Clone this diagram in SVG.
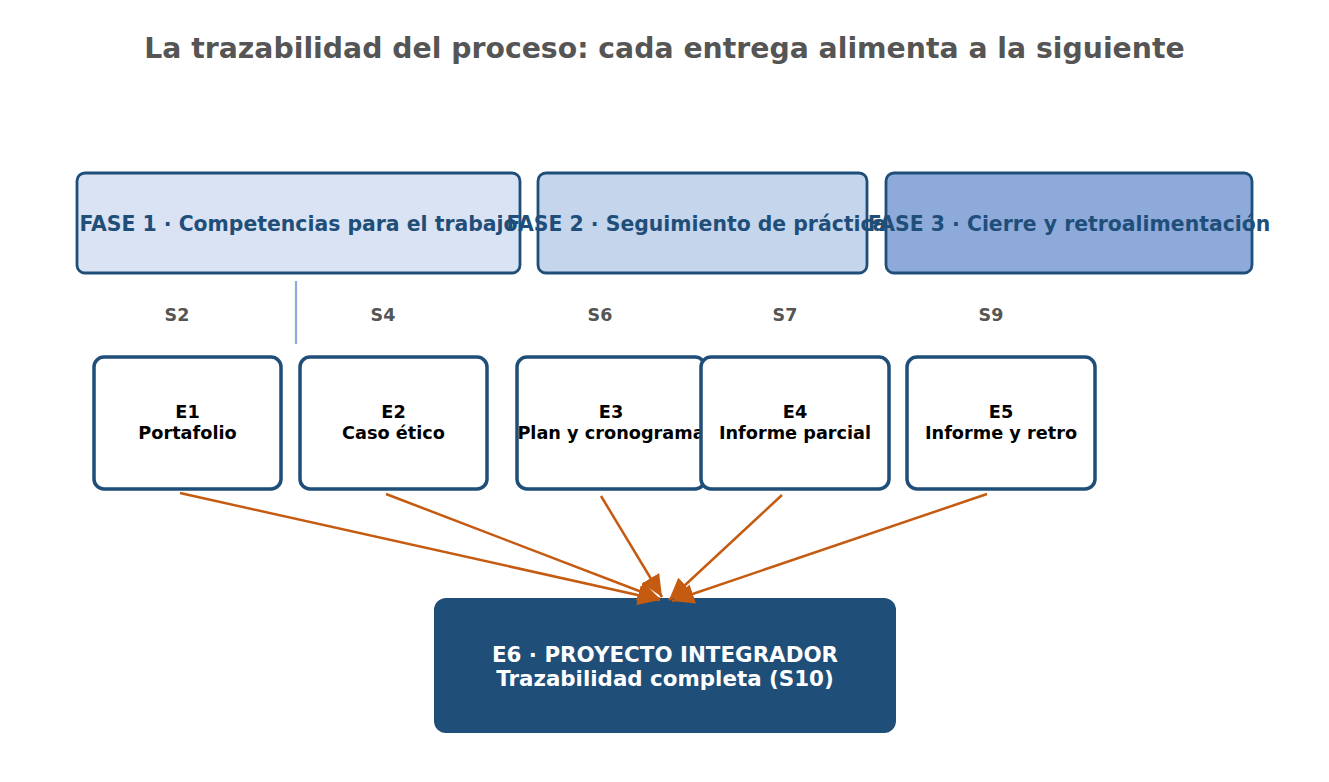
<svg xmlns="http://www.w3.org/2000/svg" width="1329" height="782" viewBox="0 0 1329 782">
<defs>
<style>
.title{font-family:"DejaVu Sans",sans-serif;font-weight:bold;font-size:28.3px;fill:#555555;text-anchor:middle}
.phase rect{stroke:#1f4e79;stroke-width:2.8}
.phase text{font-family:"DejaVu Sans",sans-serif;font-weight:bold;font-size:20.4px;fill:#1f4e79;text-anchor:middle;dominant-baseline:central}
.week{font-family:"DejaVu Sans",sans-serif;font-weight:bold;font-size:17.5px;fill:#555555;text-anchor:middle;dominant-baseline:central}
.ent rect{fill:#ffffff;stroke:#1f4e79;stroke-width:3.5}
.ent text{font-family:"DejaVu Sans",sans-serif;font-weight:bold;font-size:17.7px;fill:#000000;text-anchor:middle;dominant-baseline:central}
.final text{font-family:"DejaVu Sans",sans-serif;font-weight:bold;font-size:21.4px;fill:#ffffff;text-anchor:middle;dominant-baseline:central}
.conn line{stroke:#c55a11;stroke-width:2.5;fill:none}
</style>
<marker id="ah" markerUnits="userSpaceOnUse" markerWidth="26" markerHeight="22" refX="22" refY="10" orient="auto">
<path d="M0,0 L22,10 L0,20 Z" fill="#c55a11"/>
</marker>
</defs>
<rect width="1329" height="782" fill="#ffffff"/>
<text class="title" x="664.5" y="58">La trazabilidad del proceso: cada entrega alimenta a la siguiente</text>

<g id="fase1" class="phase"><rect x="77" y="173" width="443" height="100" rx="8" fill="#dae3f3"/><text x="298.5" y="224">FASE 1 · Competencias para el trabajo</text></g>
<g id="fase2" class="phase"><rect x="538" y="173" width="329" height="100" rx="8" fill="#c5d5ec"/><text x="702.5" y="224">FASE 2 · Seguimiento de prácticas</text></g>
<g id="fase3" class="phase"><rect x="886" y="173" width="366" height="100" rx="8" fill="#8eaadb"/><text x="1069" y="224">FASE 3 · Cierre y retroalimentación</text></g>

<line x1="296" y1="281" x2="296" y2="344" stroke="#8eaadb" stroke-width="2.2"/>

<text class="week" x="177" y="315">S2</text>
<text class="week" x="383" y="315">S4</text>
<text class="week" x="600" y="315">S6</text>
<text class="week" x="785" y="315">S7</text>
<text class="week" x="991" y="315">S9</text>

<g id="e1" class="ent"><rect x="94" y="357" width="187" height="132" rx="10"/><text x="187.5" y="412">E1</text><text x="187.5" y="433">Portafolio</text></g>
<g id="e2" class="ent"><rect x="300" y="357" width="187" height="132" rx="10"/><text x="393.5" y="412">E2</text><text x="393.5" y="433">Caso ético</text></g>
<g id="e3" class="ent"><rect x="517" y="357" width="188" height="132" rx="10"/><text x="611" y="412">E3</text><text x="611" y="433">Plan y cronograma</text></g>
<g id="e4" class="ent"><rect x="701" y="357" width="188" height="132" rx="10"/><text x="795" y="412">E4</text><text x="795" y="433">Informe parcial</text></g>
<g id="e5" class="ent"><rect x="907" y="357" width="188" height="132" rx="10"/><text x="1001" y="412">E5</text><text x="1001" y="433">Informe y retro</text></g>

<g id="e6" class="final"><rect x="434" y="598" width="462" height="135" rx="12" fill="#1f4e79"/><text x="665" y="654">E6 · PROYECTO INTEGRADOR</text><text x="665" y="678">Trazabilidad completa (S10)</text></g>

<g id="connectors" class="conn">
<line x1="180" y1="493" x2="660" y2="600" marker-end="url(#ah)"/>
<line x1="386" y1="494" x2="660" y2="599" marker-end="url(#ah)"/>
<line x1="601" y1="496" x2="662" y2="597" marker-end="url(#ah)"/>
<line x1="782" y1="495" x2="669" y2="600" marker-end="url(#ah)"/>
<line x1="987" y1="494" x2="672" y2="601" marker-end="url(#ah)"/>
</g>
</svg>
